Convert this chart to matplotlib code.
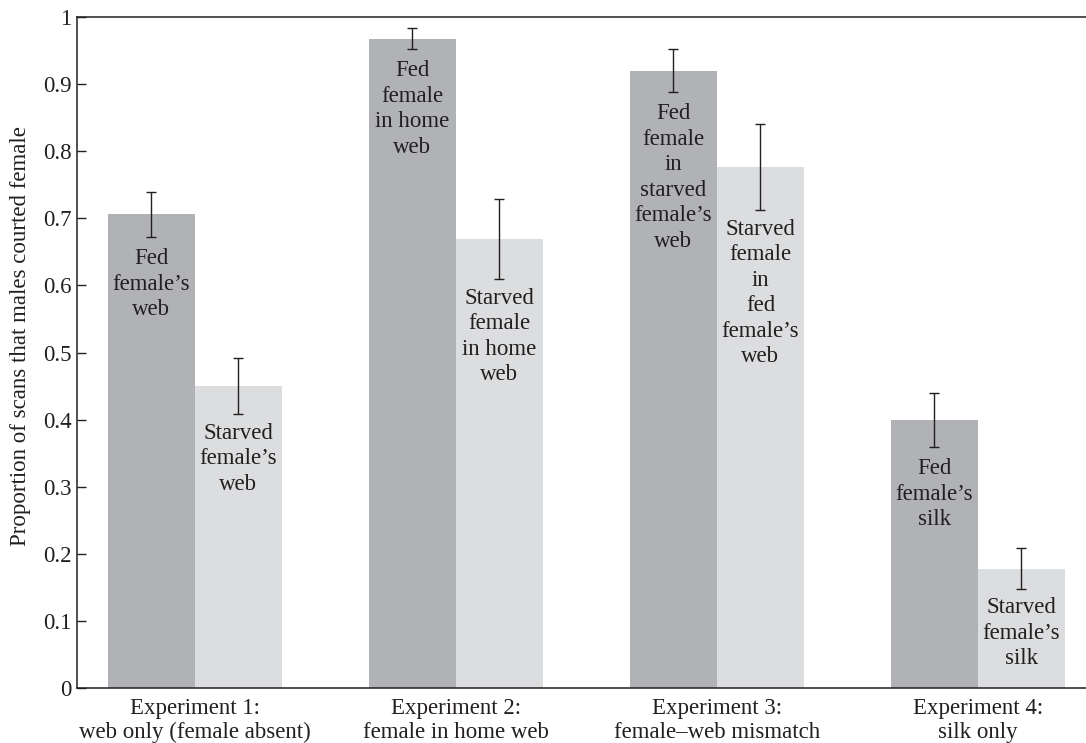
import matplotlib
matplotlib.use('Agg')
import matplotlib.pyplot as plt
import numpy as np
from matplotlib import rcParams

rcParams['font.family'] = ['Liberation Serif', 'DejaVu Serif']
rcParams['font.size'] = 16.5
rcParams['text.color'] = '#231f20'
rcParams['axes.labelcolor'] = '#231f20'
rcParams['xtick.color'] = '#231f20'
rcParams['ytick.color'] = '#231f20'

# 数据
experiments = ['Experiment 1:\nweb only (female absent)',
               'Experiment 2:\nfemale in home web',
               'Experiment 3:\nfemale–web mismatch',
               'Experiment 4:\nsilk only']
fed = [0.706, 0.968, 0.920, 0.399]
fed_err = [0.034, 0.016, 0.032, 0.040]
starved = [0.450, 0.669, 0.776, 0.178]
starved_err = [0.042, 0.060, 0.064, 0.030]
fed_labels = ['Fed\nfemale’s\nweb',
              'Fed\nfemale\nin home\nweb',
              'Fed\nfemale\nin\nstarved\nfemale’s\nweb',
              'Fed\nfemale’s\nsilk']
starved_labels = ['Starved\nfemale’s\nweb',
                  'Starved\nfemale\nin home\nweb',
                  'Starved\nfemale\nin\nfed\nfemale’s\nweb',
                  'Starved\nfemale’s\nsilk']

fig = plt.figure(figsize=(10.86, 7.43), dpi=100)
ax = fig.add_axes([0.0709, 0.074, 0.9291, 0.903])

x = np.arange(len(experiments))
w = 1 / 3
dark = '#b1b2b5'
light = '#dcdddf'

ax.bar(x - w / 2, fed, width=w, color=dark, linewidth=0)
ax.bar(x + w / 2, starved, width=w, color=light, linewidth=0)
ax.errorbar(x - w / 2, fed, yerr=fed_err, fmt='none', ecolor='#231f20',
            elinewidth=1, capsize=3.5, capthick=1)
ax.errorbar(x + w / 2, starved, yerr=starved_err, fmt='none', ecolor='#231f20',
            elinewidth=1, capsize=3.5, capthick=1)

# 柱内标签，放在误差线下方
for xi, v, e, t in zip(x - w / 2, fed, fed_err, fed_labels):
    ax.annotate(t, (xi, v - e), xytext=(0, -8), textcoords='offset points',
                ha='center', va='top', multialignment='center', linespacing=1.28)
for xi, v, e, t in zip(x + w / 2, starved, starved_err, starved_labels):
    ax.annotate(t, (xi, v - e), xytext=(0, -6), textcoords='offset points',
                ha='center', va='top', multialignment='center', linespacing=1.28)

ax.set_xlim(-0.452, 3.414)
ax.set_ylim(0, 1)
ax.set_yticks(np.arange(0, 1.01, 0.1))
ax.set_yticklabels(['0', '0.1', '0.2', '0.3', '0.4', '0.5', '0.6', '0.7', '0.8', '0.9', '1'])
ax.set_xticks(x)
ax.set_xticklabels(experiments, linespacing=1.2)
ax.tick_params(axis='x', length=0, pad=7)
ax.tick_params(axis='y', direction='in', length=6.5, width=1, pad=4)
ax.set_ylabel('Proportion of scans that males courted female')
ax.yaxis.set_label_coords(-0.046, 0.525)

for s in ['top', 'left', 'bottom']:
    ax.spines[s].set_linewidth(1.1)
    ax.spines[s].set_color('#231f20')
ax.spines['right'].set_visible(False)

fig.savefig('out.png', dpi=100)
